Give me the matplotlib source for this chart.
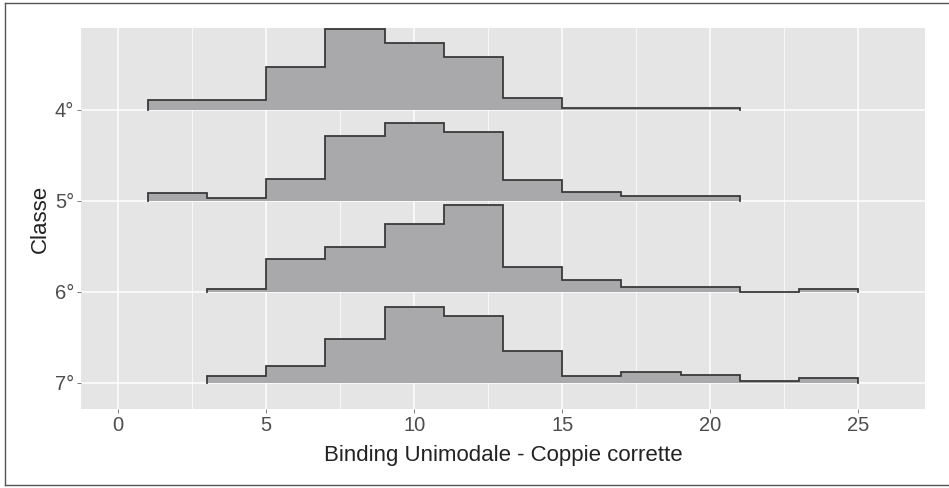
import numpy as np
import matplotlib
matplotlib.use("Agg")
import matplotlib.pyplot as plt
from matplotlib.lines import Line2D

plt.rcParams['font.family'] = ['Liberation Sans', 'DejaVu Sans']

# classes, top to bottom
classes = ['4°', '5°', '6°', '7°']

# bin edges (width 2) for each class
edges_4 = [1, 3, 5, 7, 9, 11, 13, 15, 17, 19, 21]
edges_5 = [1, 3, 5, 7, 9, 11, 13, 15, 17, 19, 21]
edges_6 = [3, 5, 7, 9, 11, 13, 15, 17, 19, 21, 23, 25]
edges_7 = [3, 5, 7, 9, 11, 13, 15, 17, 19, 21, 23, 25]

# ridge heights (in units of row spacing)
heights_4 = [0.11, 0.11, 0.47, 0.89, 0.74, 0.58, 0.13, 0.022, 0.022, 0.022]
heights_5 = [0.085, 0.03, 0.24, 0.71, 0.86, 0.76, 0.23, 0.095, 0.058, 0.058]
heights_6 = [0.033, 0.36, 0.49, 0.75, 0.96, 0.27, 0.13, 0.055, 0.055, 0.0, 0.027]
heights_7 = [0.082, 0.19, 0.48, 0.84, 0.74, 0.35, 0.077, 0.12, 0.088, 0.022, 0.055]

all_edges = [edges_4, edges_5, edges_6, edges_7]
all_heights = [heights_4, heights_5, heights_6, heights_7]

fig = plt.figure(figsize=(9.49, 4.88), dpi=100)
W, H = 949, 488
ax = fig.add_axes([81 / W, (H - 409) / H, (925 - 81) / W, (409 - 28) / H])
ax.set_facecolor('#e5e5e5')
for s in ax.spines.values():
    s.set_visible(False)

xmajor = [0, 5, 10, 15, 20, 25]
xminor = [2.5, 7.5, 12.5, 17.5, 22.5]
ax.set_xticks(xmajor)
ax.set_xticks(xminor, minor=True)
ybase = [3, 2, 1, 0]
ax.set_yticks(ybase)
ax.set_yticklabels(classes)
ax.grid(which='major', color='white', lw=1.1)
ax.grid(which='minor', axis='x', color='white', lw=0.55)
ax.set_axisbelow(True)
ax.tick_params(which='major', length=3, width=0.6, color='#666666',
               labelcolor='#4d4d4d', labelsize=14.5, pad=2)
ax.tick_params(which='minor', length=0)

for i, (e, h) in enumerate(zip(all_edges, all_heights)):
    base = ybase[i]
    e = np.array(e, dtype=float)
    h = np.array(h, dtype=float)
    xs = np.repeat(e, 2)
    ys = np.concatenate([[0], np.repeat(h, 2), [0]]) + base
    ax.fill_between(xs, base, ys, color='#a9a9ab', lw=0, zorder=2 + i)
    ax.plot(xs, ys, color='#3a3a3a', lw=1.3, zorder=2.5 + i,
            solid_joinstyle='miter')

ax.set_xlim(-1.25, 27.25)
ax.set_ylim(-0.286, 3.90)
ax.set_xlabel('Binding Unimodale - Coppie corrette', fontsize=16, color='#222222', labelpad=7)
ax.set_ylabel('Classe', fontsize=16, color='#222222', labelpad=2.5)

# outer frame
fc = '#555555'
fig.add_artist(Line2D([5 / W, 948 / W], [1 - 3 / H, 1 - 3 / H], color=fc, lw=1))
fig.add_artist(Line2D([5 / W, 5 / W], [1 - 3 / H, 1 - 485 / H], color=fc, lw=1))
fig.add_artist(Line2D([5 / W, 948 / W], [1 - 485 / H, 1 - 485 / H], color=fc, lw=1))

fig.savefig('out.png', dpi=100)
